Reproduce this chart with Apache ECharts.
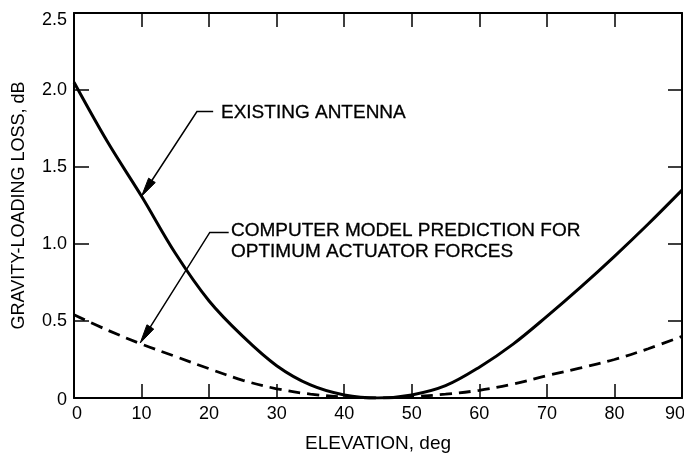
<!DOCTYPE html>
<html><head><meta charset="utf-8">
<script src="https://cdn.jsdelivr.net/npm/echarts@6/dist/echarts.min.js"></script>
<style>html,body{margin:0;padding:0;background:#fff}#c{width:684px;height:453px}</style>
</head><body><div id="c"></div>
<script>
// ---- data ----
const elevation = [0, 5, 10, 15, 20, 25, 30, 35, 40, 45, 50, 55, 60, 65, 70, 75, 80, 85, 90];
const existingLoss = [2.05, 1.66, 1.31, 0.94, 0.63, 0.40, 0.21, 0.085, 0.02, 0.0, 0.02, 0.08, 0.20, 0.35, 0.53, 0.72, 0.92, 1.13, 1.35];
const modelLoss = [0.54, 0.44, 0.35, 0.27, 0.19, 0.115, 0.06, 0.025, 0.007, 0.0, 0.008, 0.025, 0.05, 0.09, 0.145, 0.195, 0.25, 0.32, 0.40];
const xTickLabels = ['0', '10', '20', '30', '40', '50', '60', '70', '80', '90'];
const yTickLabels = ['0', '0.5', '1.0', '1.5', '2.0', '2.5'];
const xTitle = 'ELEVATION, deg';
const yTitle = 'GRAVITY-LOADING LOSS, dB';
const existingText = ['EXISTING ANTENNA'];
const modelText = ['COMPUTER MODEL PREDICTION FOR', 'OPTIMUM ACTUATOR FORCES'];

// ---- layout / style ----
const FONT = '"Liberation Sans", Arial, Helvetica, sans-serif';
const ink = '#000';
const chart = echarts.init(document.getElementById('c'), null, {renderer: 'canvas'});

const baseAxis = {
  type: 'value',
  splitLine: {show: false},
  axisLine: {show: true, onZero: false, lineStyle: {color: ink, width: 2}},
  axisTick: {show: true, inside: true, length: 14, lineStyle: {color: ink, width: 1.5}}
};

const option = {
  animation: false,
  backgroundColor: '#fff',
  grid: {left: 74, right: 2, top: 13, bottom: 55, containLabel: false, outerBoundsMode: 'none'},
  xAxis: [
    Object.assign({}, baseAxis, {
      position: 'bottom', min: 0, max: 90, interval: 10,
      name: xTitle, nameLocation: 'middle', nameGap: 36,
      nameTextStyle: {fontFamily: FONT, fontSize: 19, color: ink},
      axisLabel: {
        margin: 7, color: ink, fontFamily: FONT, fontSize: 18,
        formatter: function (v) {
          const s = xTickLabels[Math.round(v / 10)];
          if (v === 0) return '{a|' + s + '}';
          if (v === 90) return '{b|' + s + '}';
          return s;
        },
        rich: {
          a: {padding: [0, 0, 0, 6], fontFamily: FONT, fontSize: 18, color: ink},
          b: {padding: [0, 14, 0, 0], fontFamily: FONT, fontSize: 18, color: ink}
        }
      }
    }),
    Object.assign({}, baseAxis, {
      position: 'top', min: 0, max: 90, interval: 10,
      axisLabel: {show: false}
    })
  ],
  yAxis: [
    Object.assign({}, baseAxis, {
      position: 'left', min: 0, max: 2.5, interval: 0.5,
      name: yTitle, nameLocation: 'middle', nameGap: 46,
      nameTextStyle: {fontFamily: FONT, fontSize: 18, color: ink},
      axisTick: {show: true, inside: true, length: 15, lineStyle: {color: ink, width: 1.5}},
      axisLabel: {
        margin: 7, color: ink, fontFamily: FONT, fontSize: 18,
        formatter: function (v) {
          const s = yTickLabels[Math.round(v / 0.5)];
          if (v === 0) return '{a|' + s + '}';
          if (Math.abs(v - 2.5) < 1e-9) return '{b|' + s + '}';
          return s;
        },
        rich: {
          a: {padding: [4, 0, 0, 0], fontFamily: FONT, fontSize: 18, color: ink},
          b: {padding: [14, 0, 0, 0], fontFamily: FONT, fontSize: 18, color: ink}
        }
      }
    }),
    Object.assign({}, baseAxis, {
      position: 'right', min: 0, max: 2.5, interval: 0.5,
      axisLabel: {show: false}
    })
  ],
  series: [
    {
      name: 'Existing antenna', type: 'line', xAxisIndex: 0, yAxisIndex: 0,
      data: elevation.map((x, i) => [x, existingLoss[i]]),
      showSymbol: false, symbol: 'none', smooth: 0.35,
      lineStyle: {color: ink, width: 3}
    },
    {
      name: 'Computer model prediction', type: 'line', xAxisIndex: 0, yAxisIndex: 0,
      data: elevation.map((x, i) => [x, modelLoss[i]]),
      showSymbol: false, symbol: 'none', smooth: 0.35,
      lineStyle: {color: ink, width: 2.8, type: [12, 7]}
    }
  ]
};
chart.setOption(option);

// ---- annotations (leader lines anchored in data space) ----
const leaders = [
  {end: [20.6, 1.86], corner: [18.2, 1.86], tip: [10.0, 1.31]},
  {end: [22.9, 1.075], corner: [20.1, 1.075], tip: [9.8, 0.357]}
];
const graphics = [];
leaders.forEach(function (l) {
  const e = chart.convertToPixel({seriesIndex: 0}, l.end);
  const c = chart.convertToPixel({seriesIndex: 0}, l.corner);
  const t = chart.convertToPixel({seriesIndex: 0}, l.tip);
  const dx = t[0] - c[0], dy = t[1] - c[1];
  const len = Math.sqrt(dx * dx + dy * dy);
  const ux = dx / len, uy = dy / len;
  const L = 19, W = 4;
  const bx = t[0] - ux * L, by = t[1] - uy * L;
  const nx = -uy, ny = ux;
  graphics.push({
    type: 'polyline', silent: true,
    shape: {points: [e, c, [bx + ux * 2, by + uy * 2]]},
    style: {stroke: ink, lineWidth: 1.5, fill: null}
  });
  graphics.push({
    type: 'polygon', silent: true,
    shape: {points: [t, [bx + nx * W, by + ny * W], [bx - nx * W, by - ny * W]]},
    style: {fill: ink, stroke: ink, lineWidth: 1}
  });
});
function addText(str, x, y) {
  graphics.push({
    type: 'text', silent: true, x: x, y: y,
    style: {text: str, font: '19px ' + FONT, fill: ink, stroke: ink, lineWidth: 0.3,
      textAlign: 'left', textVerticalAlign: 'middle', align: 'left', verticalAlign: 'middle'}
  });
}
addText(existingText[0], 221, 113);
addText(modelText[0], 231, 231);
addText(modelText[1], 231, 252);
chart.setOption({graphic: {elements: graphics}});
</script>
</body></html>
